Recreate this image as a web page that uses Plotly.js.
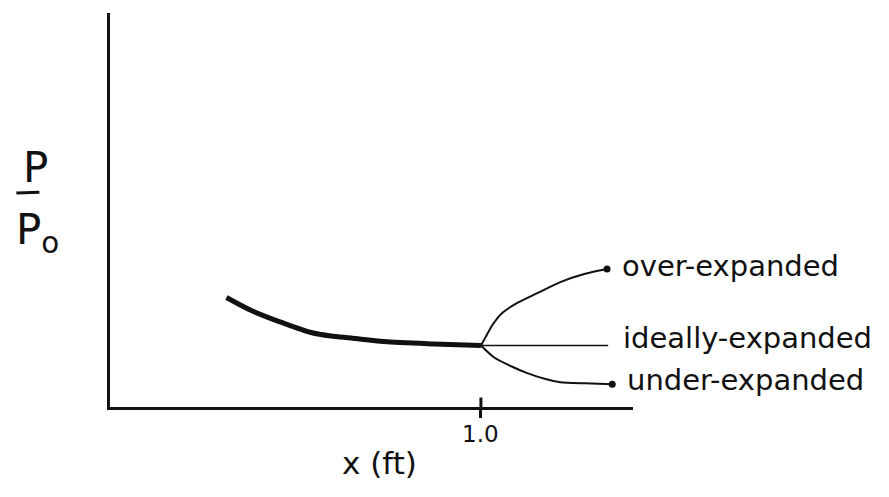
<!DOCTYPE html>
<html>
<head>
<meta charset="utf-8">
<script src="https://cdn.plot.ly/plotly-3.0.1.min.js"></script>
<style>
  html, body { margin: 0; padding: 0; background: #ffffff; }
  #chart { width: 889px; height: 497px; }
</style>
</head>
<body>
<div id="chart"></div>
<script>
// Pressure ratio P/P0 along nozzle, x (ft) - hand sketch values (arbitrary y units)
const mainX  = [0.314, 0.381, 0.470, 0.542, 0.596, 0.650, 0.739, 0.873, 1.0];
const mainY  = [0.278, 0.245, 0.212, 0.189, 0.180, 0.175, 0.166, 0.160, 0.156];
const overX  = [1.0, 1.013, 1.031, 1.058, 1.098, 1.152, 1.214, 1.281, 1.340];
const overY  = [0.156, 0.178, 0.208, 0.239, 0.264, 0.289, 0.317, 0.338, 0.350];
const idealX = [1.0, 1.343];
const idealY = [0.156, 0.156];
const underX = [1.0, 1.034, 1.080, 1.125, 1.174, 1.214, 1.281, 1.354];
const underY = [0.156, 0.127, 0.104, 0.086, 0.071, 0.063, 0.060, 0.058];
const branchLabels = ["over-expanded", "ideally-expanded", "under-expanded"];
const tickVals = [1.0];
const tickText = ["1.0"];

const ink = "#111111";
const font = "DejaVu Sans, sans-serif";
const last = a => a[a.length - 1];

const traces = [
  { x: mainX, y: mainY, mode: "lines", line: { color: ink, width: 5, shape: "spline", smoothing: 0.8 }, hoverinfo: "skip" },
  { x: overX, y: overY, mode: "lines", line: { color: ink, width: 2, shape: "spline", smoothing: 0.7 }, hoverinfo: "skip" },
  { x: idealX, y: idealY, mode: "lines", line: { color: ink, width: 1.5 }, hoverinfo: "skip" },
  { x: underX, y: underY, mode: "lines", line: { color: ink, width: 2, shape: "spline", smoothing: 0.7 }, hoverinfo: "skip" },
  { x: [last(overX), last(underX)], y: [last(overY), last(underY)], mode: "markers",
    marker: { color: ink, size: 7 }, hoverinfo: "skip", cliponaxis: false }
];

const ends = [
  { x: last(overX), y: last(overY), ys: 3 },
  { x: last(idealX), y: last(idealY), ys: 8 },
  { x: last(underX), y: last(underY), ys: 4 }
];

const annotations = branchLabels.map((t, i) => ({
  x: ends[i].x, y: ends[i].y, xref: "x", yref: "y", text: t, showarrow: false,
  xanchor: "left", yanchor: "middle", xshift: 13, yshift: ends[i].ys,
  font: { family: font, size: 29, color: ink }
}));
tickVals.forEach((v, i) => annotations.push({
  x: v, y: 0, xref: "x", yref: "paper", text: tickText[i], showarrow: false,
  xanchor: "center", yanchor: "middle", yshift: -27,
  font: { family: font, size: 23, color: ink }
}));
annotations.push(
  { x: 0.516, y: -0.142, xref: "paper", yref: "paper", text: "x (ft)", showarrow: false,
    xanchor: "center", yanchor: "middle", font: { family: font, size: 31, color: ink } },
  { x: -0.143, y: 0.607, xref: "paper", yref: "paper", text: "P", showarrow: false,
    xanchor: "center", yanchor: "middle", font: { family: font, size: 42, color: ink } },
  { x: -0.138, y: 0.444, xref: "paper", yref: "paper", text: "P<sub>o</sub>", showarrow: false,
    xanchor: "center", yanchor: "middle", font: { family: font, size: 42, color: ink } }
);

const layout = {
  width: 889, height: 497,
  margin: { l: 110, r: 256, t: 13, b: 90, pad: 0 },
  paper_bgcolor: "#ffffff", plot_bgcolor: "#ffffff",
  showlegend: false,
  xaxis: {
    range: [0, 1.41], showgrid: false, zeroline: false,
    showline: true, linecolor: ink, linewidth: 3,
    tickmode: "array", tickvals: tickVals, ticktext: tickText, showticklabels: false,
    ticks: "outside", ticklen: 8, tickwidth: 3, tickcolor: ink
  },
  yaxis: {
    range: [0, 1], showgrid: false, zeroline: false,
    showline: true, linecolor: ink, linewidth: 3,
    showticklabels: false, ticks: ""
  },
  shapes: [
    { type: "line", xref: "x", yref: "paper", x0: tickVals[0], x1: tickVals[0], y0: 0, y1: 0.024,
      line: { color: ink, width: 3 } },
    { type: "line", xref: "paper", yref: "paper", x0: -0.179, x1: -0.135, y0: 0.543, y1: 0.545,
      line: { color: ink, width: 3 } }
  ],
  annotations: annotations
};

Plotly.newPlot("chart", traces, layout, { staticPlot: true, displayModeBar: false });
</script>
</body>
</html>
